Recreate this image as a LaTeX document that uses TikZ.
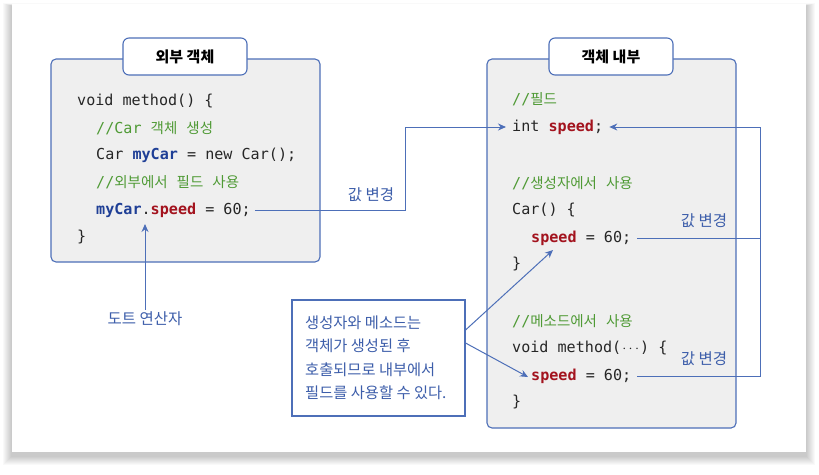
\documentclass[tikz,border=0pt]{standalone}
\usepackage{fontspec}
\setmainfont{Noto Sans CJK KR}
\newfontfamily\kr{Noto Sans CJK KR}
\newfontfamily\cd{DejaVu Sans Mono}
\usetikzlibrary{arrows.meta}
\definecolor{lineblue}{HTML}{4D6FB8}
\definecolor{txtblue}{HTML}{3D5EAA}
\definecolor{cgreen}{HTML}{4F9A35}
\definecolor{cred}{HTML}{A3131E}
\definecolor{cblue}{HTML}{1F3F96}
\definecolor{boxfill}{HTML}{EFEFEF}
\newcommand\cmt[1]{\textcolor{cgreen}{#1}}
\newcommand\spd{\textcolor{cred}{\bfseries speed}}
\newcommand\myc{\textcolor{cblue}{\bfseries myCar}}
\newcommand\kc[1]{{\kr\fontsize{14.5}{16}\selectfont #1}}
\newcommand\ks{\hspace{9pt}}
\tikzset{
  codeline/.style={anchor=west, inner sep=0pt, text=black!85, font=\cd\fontsize{15.1}{17}\selectfont},
  codebox/.style={draw=lineblue, line width=1.1pt, fill=boxfill, rounded corners=5pt},
  tab/.style={draw=lineblue, line width=1.1pt, fill=white, rounded corners=6pt, minimum width=124pt, minimum height=37pt, font=\kr\bfseries\fontsize{15}{17}\selectfont, inner sep=0pt},
  lbl/.style={text=txtblue, inner sep=0pt, font=\kr\fontsize{15.5}{17}\selectfont},
  conn/.style={draw=lineblue, line width=1pt},
  arr/.style={conn, -{Stealth[length=8pt,width=7pt]}},
  callout/.style={draw=lineblue, line width=1.1pt, fill=white},
  callouttext/.style={text=txtblue, align=left, inner sep=0pt, anchor=west, font=\kr\fontsize{15.3}{23.5}\selectfont}
}
\begin{document}
\begin{tikzpicture}[x=1pt,y=-1pt]
\useasboundingbox (0,0) rectangle (819,474);
\fill[white] (0,0) rectangle (819,474);
% card shadow
\foreach \i in {1,...,9}{
  \fill[black, opacity=0.025] (12-\i,6-\i*0.3) rectangle (806+\i,456+\i);
}
\fill[white] (12,4) rectangle (806,452);

% boxes
\node[codebox, minimum width=269pt, minimum height=203pt] (bl) at (185.5,160.5) {};
\node[codebox, minimum width=249pt, minimum height=369pt] (br) at (611.5,243.5) {};
\node[tab] (tl) at (185,56.5) {외부 객체};
\node[tab] (tr) at (611,56.5) {객체 내부};

% left code
\node[codeline] (a1) at (77,101) {void method() \{};
\node[codeline] (a2) at (96,128) {\cmt{//Car \kc{객체\ks 생성}}};
\node[codeline] (a3) at (96,155) {Car \myc{} = new Car();};
\node[codeline] (a4) at (96,182) {\cmt{//\kc{외부에서\ks 필드\ks 사용}}};
\node[codeline] (a5) at (96,210) {\myc.\spd{} = 60;};
\node[codeline] (a6) at (77,237) {\}};

% right code
\node[codeline] (b1) at (512,99) {\cmt{//\kc{필드}}};
\node[codeline] (b2) at (512,127) {int \spd;};
\node[codeline] (b3) at (512,183) {\cmt{//\kc{생성자에서\ks 사용}}};
\node[codeline] (b4) at (512,210) {Car() \{};
\node[codeline] (b5) at (531,238) {\spd{} = 60;};
\node[codeline] (b6) at (512,264) {\}};
\node[codeline] (b7) at (512,321) {\cmt{//\kc{메소드에서\ks 사용}}};
\node[codeline] (b8) at (512,348) {void method(\kern1pt$\cdots$\kern1pt) \{};
\node[codeline] (b9) at (531,376) {\spd{} = 60;};
\node[codeline] (b10) at (512,402) {\}};

% labels
\node[lbl] (v1) at (371,195) {값 변경};
\node[lbl] (v2) at (704,221) {값 변경};
\node[lbl] (v3) at (704,359) {값 변경};
\node[lbl] (dot) at (145,319) {도트 연산자};

\node[callout, minimum width=173pt, minimum height=116pt] (cb) at (378.5,358) {};
\node[callouttext] (cbt) at (305,358)
  {생성자와 메소드는\\객체가 생성된 후\\호출되므로 내부에서\\필드를 사용할 수 있다.};

% connectors
\coordinate (k1) at (405,210);
\coordinate (k2) at (760,127);
\coordinate (dt) at (145,224);
\coordinate (t1) at (553,250);
\coordinate (t2) at (528,377);
\draw[arr] ([xshift=4pt]a5.east) -- (k1) |- ([xshift=-6pt]b2.west);
\draw[arr] ([xshift=6pt]b5.east) -| (k2) -- ([xshift=6pt]b2.east);
\draw[conn] ([xshift=6pt]b9.east) -| (k2);
\draw[arr] ([yshift=2pt]dot.north) -- (dt);
\draw[arr] ([yshift=28pt]cb.east) -- (t1);
\draw[arr] ([yshift=15pt]cb.east) -- (t2);
\end{tikzpicture}
\end{document}
